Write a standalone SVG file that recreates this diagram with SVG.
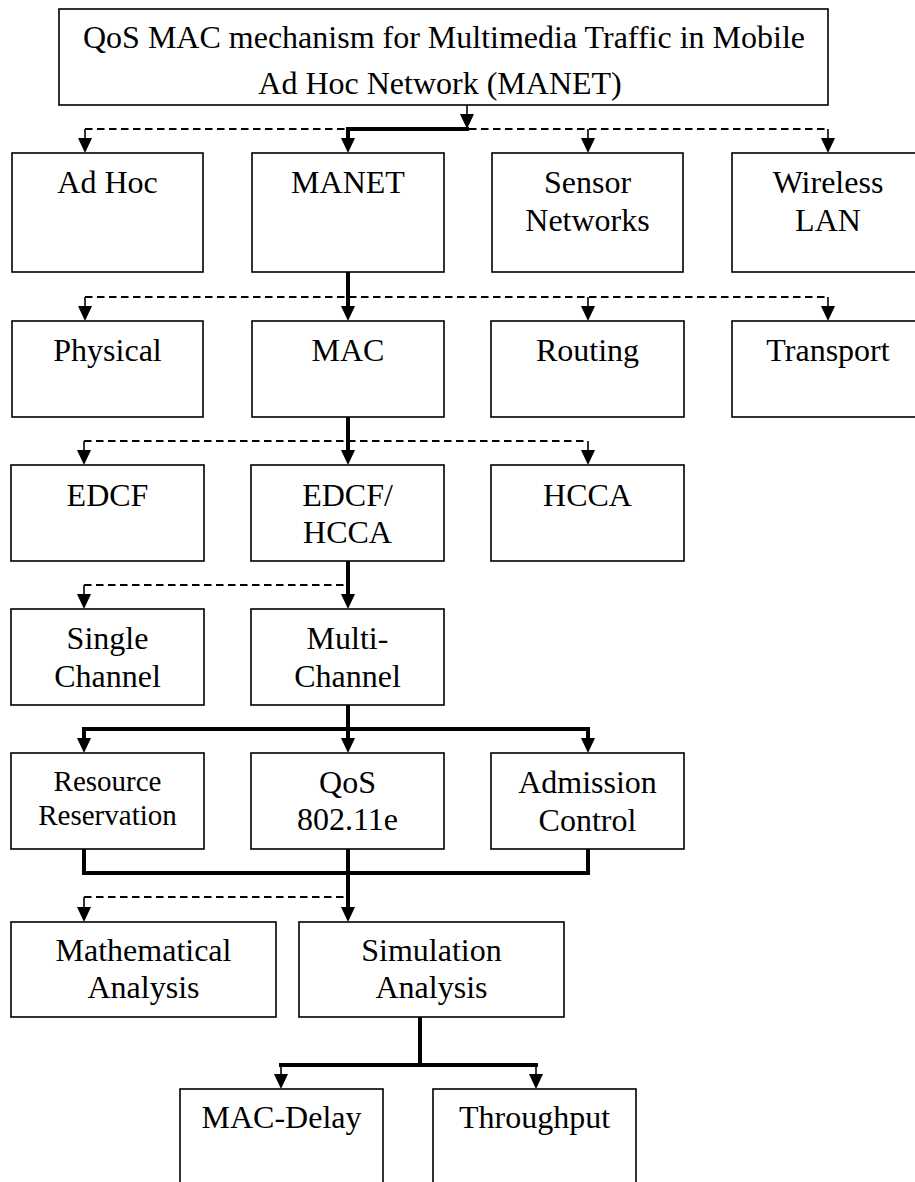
<svg xmlns="http://www.w3.org/2000/svg" xmlns:xlink="http://www.w3.org/1999/xlink" width="915" height="1182" viewBox="0 0 915 1182">
<style>
.box{fill:#fff;stroke:#000;stroke-width:1.6}
.t{font-family:"Liberation Serif","Times New Roman",serif;font-size:32px;fill:#000;text-anchor:middle}
.s{font-size:29px}
.thick{stroke:#000;stroke-width:4;fill:none;stroke-linecap:square}
.thin{stroke:#000;stroke-width:1.6;fill:none}
.dash{stroke:#000;stroke-width:1.8;fill:none;stroke-dasharray:7.5 4.5}
</style>
<defs>
<path id="ah" d="M-7,-15 L7,-15 L0,0 Z" fill="#000"/>
</defs>
<rect width="915" height="1182" fill="#fff"/>
<g id="connectors">
<!-- top -> row2 -->
<line class="thin" x1="467" y1="105" x2="467" y2="115"/>
<use xlink:href="#ah" x="467" y="129"/>
<line class="dash" x1="85" y1="129" x2="828" y2="129"/>
<line class="thick" x1="348" y1="129" x2="467" y2="129"/>
<line class="thick" x1="348" y1="129" x2="348" y2="139"/>
<line class="thin" x1="85" y1="129" x2="85" y2="139"/>
<line class="thin" x1="588" y1="129" x2="588" y2="139"/>
<line class="thin" x1="828" y1="129" x2="828" y2="139"/>
<use xlink:href="#ah" x="85" y="153"/>
<use xlink:href="#ah" x="348" y="153"/>
<use xlink:href="#ah" x="588" y="153"/>
<use xlink:href="#ah" x="828" y="153"/>
<!-- row2 -> row3 -->
<line class="dash" x1="85" y1="297" x2="828" y2="297"/>
<line class="thick" x1="348" y1="273" x2="348" y2="307"/>
<line class="thin" x1="85" y1="297" x2="85" y2="307"/>
<line class="thin" x1="588" y1="297" x2="588" y2="307"/>
<line class="thin" x1="828" y1="297" x2="828" y2="307"/>
<use xlink:href="#ah" x="85" y="321"/>
<use xlink:href="#ah" x="348" y="321"/>
<use xlink:href="#ah" x="588" y="321"/>
<use xlink:href="#ah" x="828" y="321"/>
<!-- row3 -> row4 -->
<line class="dash" x1="84" y1="441" x2="588" y2="441"/>
<line class="thick" x1="348" y1="418" x2="348" y2="451"/>
<line class="thin" x1="84" y1="441" x2="84" y2="451"/>
<line class="thin" x1="588" y1="441" x2="588" y2="451"/>
<use xlink:href="#ah" x="84" y="465"/>
<use xlink:href="#ah" x="348" y="465"/>
<use xlink:href="#ah" x="588" y="465"/>
<!-- row4 -> row5 -->
<line class="dash" x1="84" y1="585" x2="348" y2="585"/>
<line class="thick" x1="348" y1="562" x2="348" y2="595"/>
<line class="thin" x1="84" y1="585" x2="84" y2="595"/>
<use xlink:href="#ah" x="84" y="609"/>
<use xlink:href="#ah" x="348" y="609"/>
<!-- row5 -> row6 -->
<line class="thick" x1="348" y1="706" x2="348" y2="739"/>
<line class="thick" x1="84" y1="729" x2="588" y2="729"/>
<line class="thick" x1="84" y1="729" x2="84" y2="739"/>
<line class="thick" x1="588" y1="729" x2="588" y2="739"/>
<use xlink:href="#ah" x="84" y="753"/>
<use xlink:href="#ah" x="348" y="753"/>
<use xlink:href="#ah" x="588" y="753"/>
<!-- row6 -> row7 -->
<line class="thick" x1="84" y1="850" x2="84" y2="873"/>
<line class="thick" x1="588" y1="850" x2="588" y2="873"/>
<line class="thick" x1="84" y1="873" x2="588" y2="873"/>
<line class="thick" x1="348" y1="850" x2="348" y2="908"/>
<line class="dash" x1="84" y1="897" x2="348" y2="897"/>
<line class="thin" x1="84" y1="897" x2="84" y2="908"/>
<use xlink:href="#ah" x="84" y="922"/>
<use xlink:href="#ah" x="348" y="922"/>
<!-- row7 -> row8 -->
<line class="thick" x1="420" y1="1018" x2="420" y2="1065"/>
<line class="thick" x1="281" y1="1065" x2="536" y2="1065"/>
<line class="thin" x1="281" y1="1065" x2="281" y2="1075"/>
<line class="thin" x1="536" y1="1065" x2="536" y2="1075"/>
<use xlink:href="#ah" x="281" y="1089"/>
<use xlink:href="#ah" x="536" y="1089"/>
</g>
<g id="n-title"><rect class="box" x="59" y="9" width="769" height="96"/><text class="t" x="444" y="48">QoS MAC mechanism for Multimedia Traffic in Mobile</text><text class="t" x="440" y="94">Ad Hoc Network (MANET)</text></g>
<g id="n-adhoc"><rect class="box" x="12" y="153" width="191" height="119"/><text class="t" x="107.5" y="193">Ad Hoc</text></g>
<g id="n-manet"><rect class="box" x="252" y="153" width="192" height="119"/><text class="t" x="348" y="193">MANET</text></g>
<g id="n-sensor"><rect class="box" x="492" y="153" width="191" height="119"/><text class="t" x="587.5" y="193">Sensor</text><text class="t" x="587.5" y="231">Networks</text></g>
<g id="n-wlan"><rect class="box" x="732" y="153" width="192" height="119"/><text class="t" x="828" y="193">Wireless</text><text class="t" x="828" y="231">LAN</text></g>
<g id="n-physical"><rect class="box" x="12" y="321" width="191" height="96"/><text class="t" x="107.5" y="361">Physical</text></g>
<g id="n-mac"><rect class="box" x="252" y="321" width="192" height="96"/><text class="t" x="348" y="361">MAC</text></g>
<g id="n-routing"><rect class="box" x="491" y="321" width="193" height="96"/><text class="t" x="587.5" y="361">Routing</text></g>
<g id="n-transport"><rect class="box" x="732" y="321" width="192" height="96"/><text class="t" x="828" y="361">Transport</text></g>
<g id="n-edcf"><rect class="box" x="11" y="465" width="193" height="96"/><text class="t" x="107.5" y="506">EDCF</text></g>
<g id="n-edcfhcca"><rect class="box" x="251" y="465" width="193" height="96"/><text class="t" x="347.5" y="506">EDCF/</text><text class="t" x="347.5" y="543">HCCA</text></g>
<g id="n-hcca"><rect class="box" x="491" y="465" width="193" height="96"/><text class="t" x="587.5" y="506">HCCA</text></g>
<g id="n-single"><rect class="box" x="11" y="609" width="193" height="96"/><text class="t" x="107.5" y="649">Single</text><text class="t" x="107.5" y="687">Channel</text></g>
<g id="n-multi"><rect class="box" x="251" y="609" width="193" height="96"/><text class="t" x="347.5" y="649">Multi-</text><text class="t" x="347.5" y="687">Channel</text></g>
<g id="n-resource"><rect class="box" x="11" y="753" width="193" height="96"/><text class="t s" x="107.5" y="791">Resource</text><text class="t s" x="107.5" y="825">Reservation</text></g>
<g id="n-qos"><rect class="box" x="251" y="753" width="193" height="96"/><text class="t" x="347.5" y="793">QoS</text><text class="t" x="347.5" y="830">802.11e</text></g>
<g id="n-admission"><rect class="box" x="491" y="753" width="193" height="96"/><text class="t" x="587.5" y="793">Admission</text><text class="t" x="587.5" y="831">Control</text></g>
<g id="n-math"><rect class="box" x="11" y="922" width="265" height="95"/><text class="t" x="143.5" y="961">Mathematical</text><text class="t" x="143.5" y="998">Analysis</text></g>
<g id="n-sim"><rect class="box" x="299" y="922" width="265" height="95"/><text class="t" x="431.5" y="961">Simulation</text><text class="t" x="431.5" y="998">Analysis</text></g>
<g id="n-delay"><rect class="box" x="180" y="1089" width="203" height="110"/><text class="t" x="281.5" y="1128">MAC-Delay</text></g>
<g id="n-throughput"><rect class="box" x="433" y="1089" width="203" height="110"/><text class="t" x="534.5" y="1128">Throughput</text></g>
</svg>
